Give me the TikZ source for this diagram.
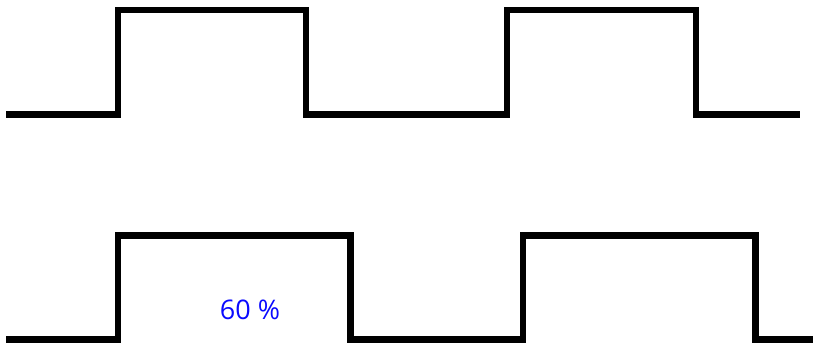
\documentclass[tikz,border=0pt]{standalone}
\usepackage{fontspec}
\setmainfont{Open Sans}
\begin{document}
\begin{tikzpicture}[x=1pt, y=-1pt]
    \definecolor{waveColour}{HTML}{000000}
    \definecolor{labelColour}{HTML}{0A0AFF}

    \tikzset{wave/.style={draw=waveColour, line width=6.5pt, line join=miter, line cap=butt}}

    \def\topHigh{10}
    \def\topLow{114.5}
    \def\botHigh{235.5}
    \def\botLow{339.5}

    \useasboundingbox (0,0) rectangle (813,344);

    % Upper signal: two periods, 50 % duty
    \draw[wave] (6,\topLow) -- (118,\topLow) -- (118,\topHigh) -- (306,\topHigh) -- (306,\topLow) -- (410,\topLow);
    \draw[wave] (403,\topLow) -- (507,\topLow) -- (507,\topHigh) -- (696,\topHigh) -- (696,\topLow) -- (800,\topLow);

    % Lower signal: two periods, 60 % duty
    \draw[wave] (6,\botLow) -- (118,\botLow) -- (118,\botHigh) -- (350.5,\botHigh) -- (350.5,\botLow) -- (410,\botLow);
    \draw[wave] (409,\botLow) -- (523,\botLow) -- (523,\botHigh) -- (755.5,\botHigh) -- (755.5,\botLow) -- (813,\botLow);

    % duty cycle label
    \node[text=labelColour, font=\fontsize{27}{32}\selectfont] (duty) at (250,310) {60 \%};

\end{tikzpicture}
\end{document}
